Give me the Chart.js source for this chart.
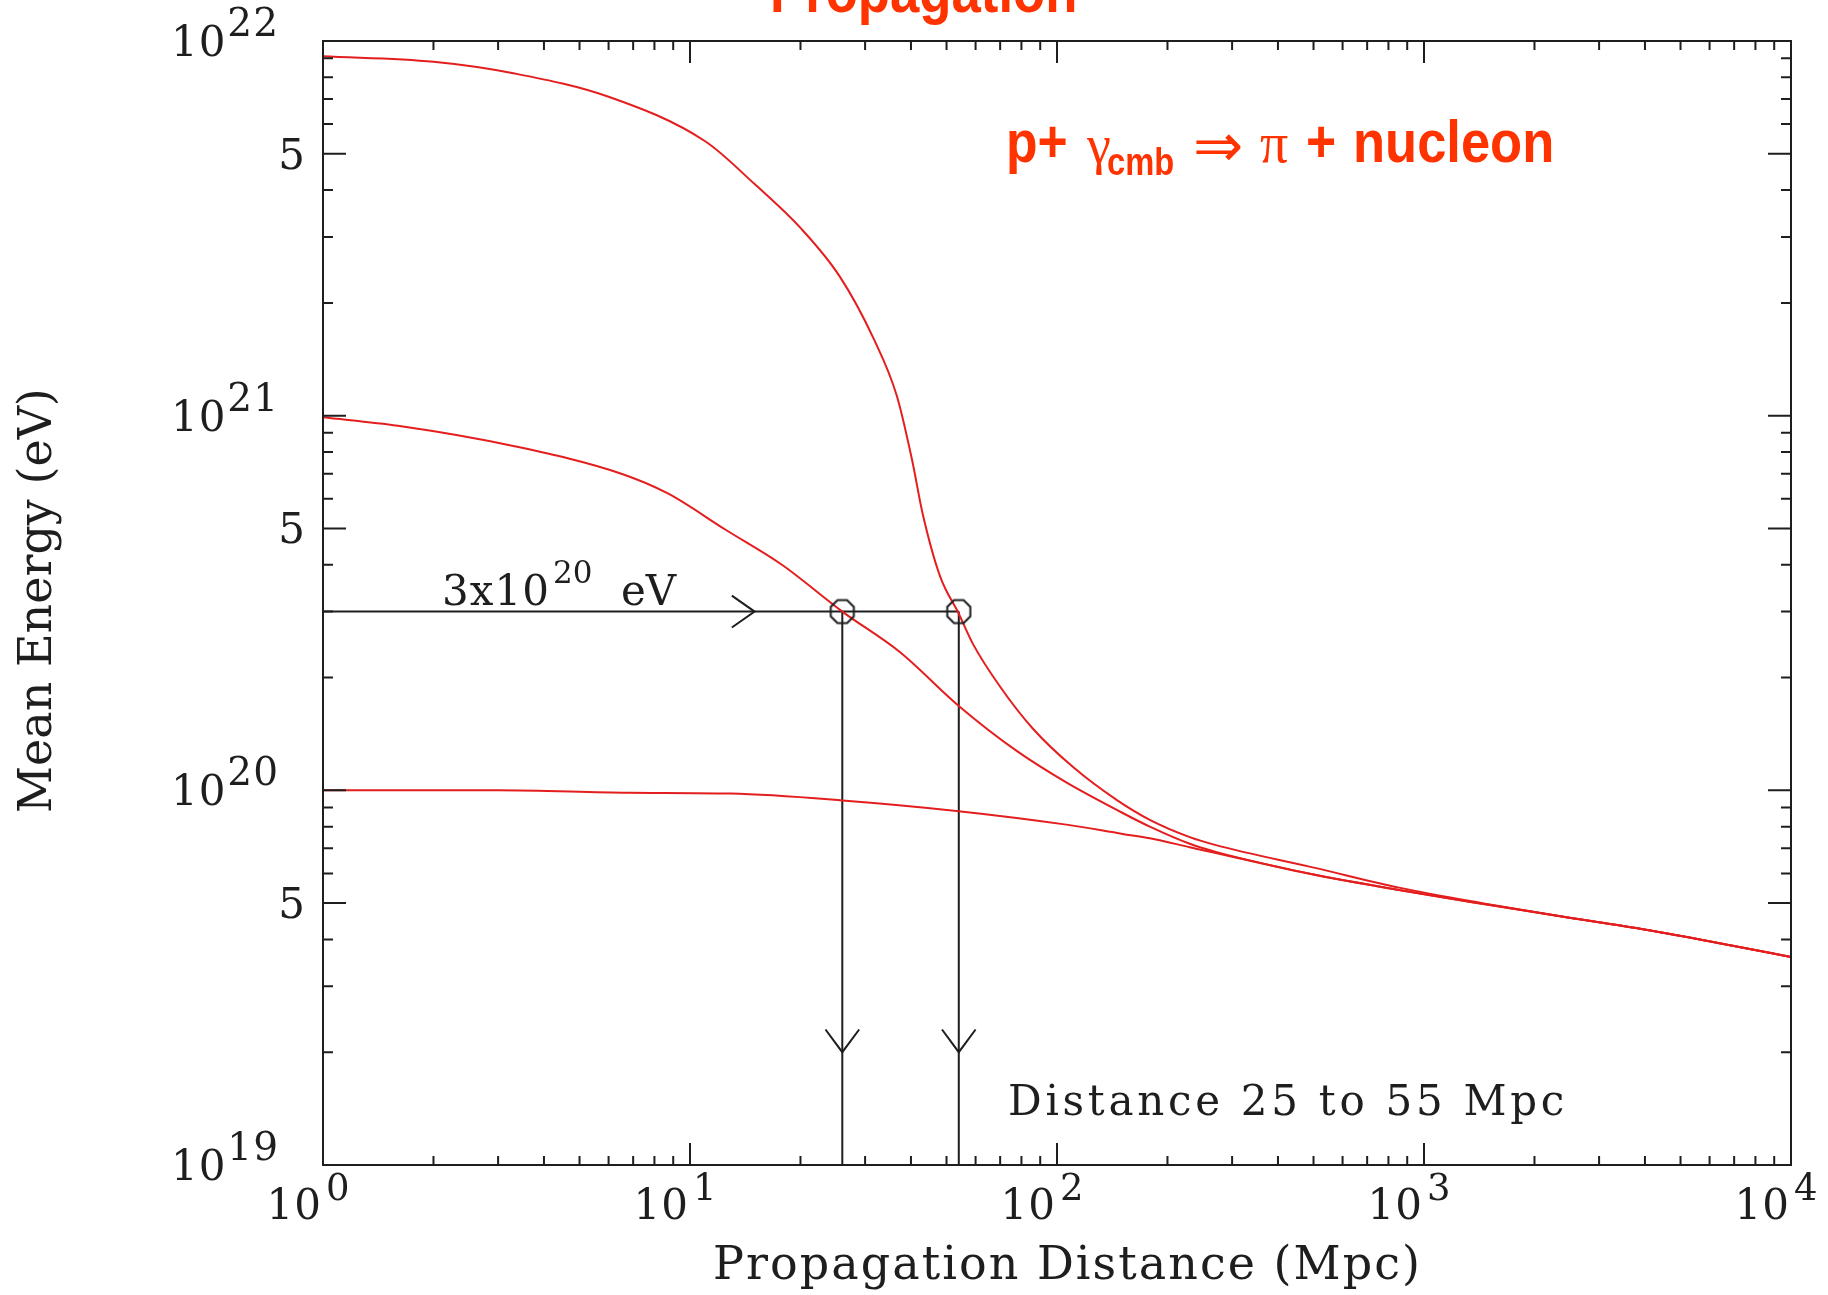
<!DOCTYPE html>
<html>
<head>
<meta charset="utf-8">
<script src="https://cdn.jsdelivr.net/npm/chart.js@4.4.0/dist/chart.umd.min.js"></script>
<style>
  html, body { margin: 0; padding: 0; background: #fff; }
  #wrap { width: 1828px; height: 1295px; }
</style>
</head>
<body>
<div id="wrap"><canvas id="graph" width="1828" height="1295"></canvas></div>
<script>
// curves (distance in Mpc, energy in eV)
const topDist = [1, 2, 3.3, 6, 11, 15, 20, 25.6, 31.7, 36.6, 40.3, 43, 48, 54, 59, 70, 86, 111, 146, 179, 230, 271, 508, 855, 1440, 2420, 4060, 6820, 10000];
const topEnergy = [9.1e21, 8.8e21, 8.2e21, 7.1e21, 5.4e21, 4.15e21, 3.17e21, 2.35e21, 1.6e21, 1.13e21, 7.6e20, 5.5e20, 3.73e20, 2.96e20, 2.46e20, 1.89e20, 1.46e20, 1.15e20, 9.4e19, 8.34e19, 7.5e19, 7.14e19, 6.2e19, 5.5e19, 5.0e19, 4.59e19, 4.24e19, 3.86e19, 3.59e19];

const midDist = [1, 1.6, 3.3, 6.5, 8.7, 12.5, 17.8, 26, 37.3, 54, 78, 106, 151, 179, 230, 271, 508, 855, 1440, 2420, 4060, 6820, 10000];
const midEnergy = [9.9e20, 9.4e20, 8.3e20, 7.0e20, 6.2e20, 4.96e20, 4.0e20, 3.0e20, 2.34e20, 1.68e20, 1.27e20, 1.05e20, 8.7e19, 8.0e19, 7.2e19, 6.85e19, 5.94e19, 5.42e19, 4.98e19, 4.59e19, 4.24e19, 3.86e19, 3.59e19];

const lowDist = [1, 3, 6.8, 12.9, 26, 54, 106, 151, 179, 230, 271, 508, 855, 1440, 2420, 4060, 6820, 10000];
const lowEnergy = [1.0e20, 1.0e20, 9.85e19, 9.8e19, 9.4e19, 8.8e19, 8.1e19, 7.65e19, 7.45e19, 7.05e19, 6.8e19, 5.94e19, 5.42e19, 4.98e19, 4.59e19, 4.24e19, 3.86e19, 3.59e19];

// 3x10^20 eV guide: crossings at 26 and 54 Mpc
const cutEnergy = 3e20;
const crossDist = [26, 54];
const axisMin = { x: 1, y: 1e19 };
const axisMax = { x: 1e4, y: 1e22 };

// arrow heads (open chevrons)
const hArrowDist = [13.0, 15, 13.0];
const hArrowEnergy = [3.31e20, 3e20, 2.72e20];
const vArrow1Dist = [23.4, 26, 28.9];
const vArrow2Dist = [48.6, 54, 60.0];
const vArrowEnergy = [2.3e19, 2e19, 2.3e19];

// tick labels
const xLabelTicks = [1, 10, 100, 1000, 10000];
const xLabelExp = ['0', '1', '2', '3', '4'];
const yLabelTicks = [1e22, 5e21, 1e21, 5e20, 1e20, 5e19, 1e19];
const yLabelBase = ['10', '5', '10', '5', '10', '5', '10'];
const yLabelExp = ['22', '', '21', '', '20', '', '19'];

const red = '#e41e1e';
const ink = '#1e1e1e';
const serif = '"DejaVu Serif", serif';
const orange = '#ff3300';

function pts(xs, ys) {
    return xs.map((v, i) => ({ x: v, y: Array.isArray(ys) ? ys[i] : ys }));
}

// octagon marker
const octagon = document.createElement('canvas');
octagon.width = 30;
octagon.height = 30;
(function () {
    const c = octagon.getContext('2d');
    c.strokeStyle = ink;
    c.lineWidth = 2;
    c.beginPath();
    for (let i = 0; i < 8; i++) {
        const a = Math.PI / 8 + i * Math.PI / 4;
        const px = 15 + 12.5 * Math.cos(a), py = 15 + 12.5 * Math.sin(a);
        if (i === 0) c.moveTo(px, py); else c.lineTo(px, py);
    }
    c.closePath();
    c.stroke();
})();

function curve(xs, ys) {
    return {
        data: pts(xs, ys), showLine: true, borderColor: red, borderWidth: 2,
        pointRadius: 0, cubicInterpolationMode: 'monotone', order: 1
    };
}
function guide(data) {
    return { data: data, showLine: true, borderColor: ink, borderWidth: 2, pointRadius: 0, order: 2 };
}

function spaced(ctx, str, x, y, font, width) {
    ctx.font = font;
    ctx.letterSpacing = '0px';
    const w0 = ctx.measureText(str).width;
    ctx.letterSpacing = Math.max(0, (width - w0) / str.length) + 'px';
    ctx.fillText(str, x, y);
    ctx.letterSpacing = '0px';
}

function condensed(ctx, str, x, y, size, sx) {
    ctx.save();
    ctx.translate(x, y);
    ctx.scale(sx, 1);
    ctx.font = 'bold ' + size + 'px "Liberation Sans", Arial, sans-serif';
    ctx.fillText(str, 0, 0);
    ctx.restore();
}

const frame = {
    id: 'frame',
    afterDraw(chart) {
        const { ctx, chartArea: a, scales: { x, y } } = chart;
        ctx.save();
        ctx.strokeStyle = ink;
        ctx.lineWidth = 2;
        ctx.strokeRect(a.left, a.top, a.right - a.left, a.bottom - a.top);

        // inward ticks on all four sides
        ctx.beginPath();
        for (let d = 1; d <= 1e4; d *= 10) {
            for (let k = 1; k < 10; k++) {
                const v = d * k;
                if (v > 1e4) break;
                const px = x.getPixelForValue(v);
                const len = k === 1 ? 22 : 9;
                ctx.moveTo(px, a.bottom); ctx.lineTo(px, a.bottom - len);
                ctx.moveTo(px, a.top); ctx.lineTo(px, a.top + len);
            }
        }
        for (let d = 1e19; d <= 1e22; d *= 10) {
            for (let k = 1; k < 10; k++) {
                const v = d * k;
                if (v > 1.01e22) break;
                const py = y.getPixelForValue(v);
                const len = (k === 1 || k === 5) ? 23 : 10;
                ctx.moveTo(a.left, py); ctx.lineTo(a.left + len, py);
                ctx.moveTo(a.right, py); ctx.lineTo(a.right - len, py);
            }
        }
        ctx.stroke();

        // tick labels
        ctx.fillStyle = ink;
        ctx.textBaseline = 'middle';
        ctx.letterSpacing = '1px';
        yLabelTicks.forEach((v, i) => {
            const py = y.getPixelForValue(v);
            if (yLabelExp[i]) {
                const r = a.left - 44;
                ctx.font = '39px ' + serif;
                ctx.textAlign = 'right';
                const sw = ctx.measureText(yLabelExp[i]).width;
                ctx.fillText(yLabelExp[i], r, py - 15);
                ctx.font = '42px ' + serif;
                ctx.fillText(yLabelBase[i], r - sw - 1, py + 4);
            } else {
                ctx.font = '42px ' + serif;
                ctx.textAlign = 'right';
                ctx.fillText(yLabelBase[i], a.left - 17, py + 4);
            }
        });
        xLabelTicks.forEach((v, i) => {
            const px = x.getPixelForValue(v);
            ctx.font = '42px ' + serif;
            ctx.textAlign = 'right';
            ctx.fillText('10', px - 1, a.bottom + 43);
            ctx.font = '37px ' + serif;
            ctx.textAlign = 'left';
            ctx.fillText(xLabelExp[i], px + 3, a.bottom + 25);
        });
        ctx.letterSpacing = '0px';

        // axis titles
        ctx.textAlign = 'left';
        ctx.textBaseline = 'alphabetic';
        spaced(ctx, 'Propagation Distance (Mpc)', 713, 1279, '46px ' + serif, 709);
        ctx.save();
        ctx.translate(51, 813);
        ctx.rotate(-Math.PI / 2);
        spaced(ctx, 'Mean Energy (eV)', 0, 0, '46px ' + serif, 417);
        ctx.restore();

        // annotations in the plot
        spaced(ctx, '3x10', 442, 605, '42px ' + serif, 108);
        ctx.font = '31px ' + serif;
        ctx.fillText('20', 553, 583);
        spaced(ctx, 'eV', 621, 605, '42px ' + serif, 55);
        spaced(ctx, 'Distance 25 to 55 Mpc', 1008, 1115, '42px ' + serif, 560);

        // slide heading and reaction, in orange red
        ctx.fillStyle = orange;
        condensed(ctx, 'Propagation', 770, 12, 62, 0.85);
        condensed(ctx, 'p+', 1006, 162, 60, 0.86);
        ctx.font = '54px "Liberation Serif", serif';
        ctx.fillText('\u03b3', 1087, 163);
        condensed(ctx, 'cmb', 1107, 175, 38, 0.86);
        ctx.font = '60px "DejaVu Sans", sans-serif';
        ctx.fillText('\u21d2', 1193, 166);
        ctx.font = '56px "Liberation Serif", serif';
        ctx.fillText('\u03c0', 1260, 162);
        condensed(ctx, '+', 1306, 162, 60, 0.86);
        condensed(ctx, 'nucleon', 1353, 162, 60, 0.875);
        ctx.restore();
    }
};

const chart = new Chart(document.getElementById('graph').getContext('2d'), {
    type: 'scatter',
    data: {
        datasets: [
            curve(topDist, topEnergy),
            curve(midDist, midEnergy),
            curve(lowDist, lowEnergy),
            guide(pts([axisMin.x, crossDist[1]], cutEnergy)),
            guide(pts([crossDist[0], crossDist[0]], [cutEnergy, axisMin.y])),
            guide(pts([crossDist[1], crossDist[1]], [cutEnergy, axisMin.y])),
            guide(pts(hArrowDist, hArrowEnergy)),
            guide(pts(vArrow1Dist, vArrowEnergy)),
            guide(pts(vArrow2Dist, vArrowEnergy)),
            {
                data: pts(crossDist, cutEnergy), showLine: false, pointStyle: octagon,
                pointRadius: 12, order: 0
            }
        ]
    },
    options: {
        responsive: false,
        animation: false,
        devicePixelRatio: 1,
        layout: { padding: { left: 323, right: 37, top: 41, bottom: 130 } },
        scales: {
            x: { type: 'logarithmic', min: axisMin.x, max: axisMax.x, display: false },
            y: { type: 'logarithmic', min: axisMin.y, max: axisMax.y, display: false }
        },
        plugins: { legend: { display: false }, tooltip: { enabled: false } },
        events: []
    },
    plugins: [frame]
});
</script>
</body>
</html>
